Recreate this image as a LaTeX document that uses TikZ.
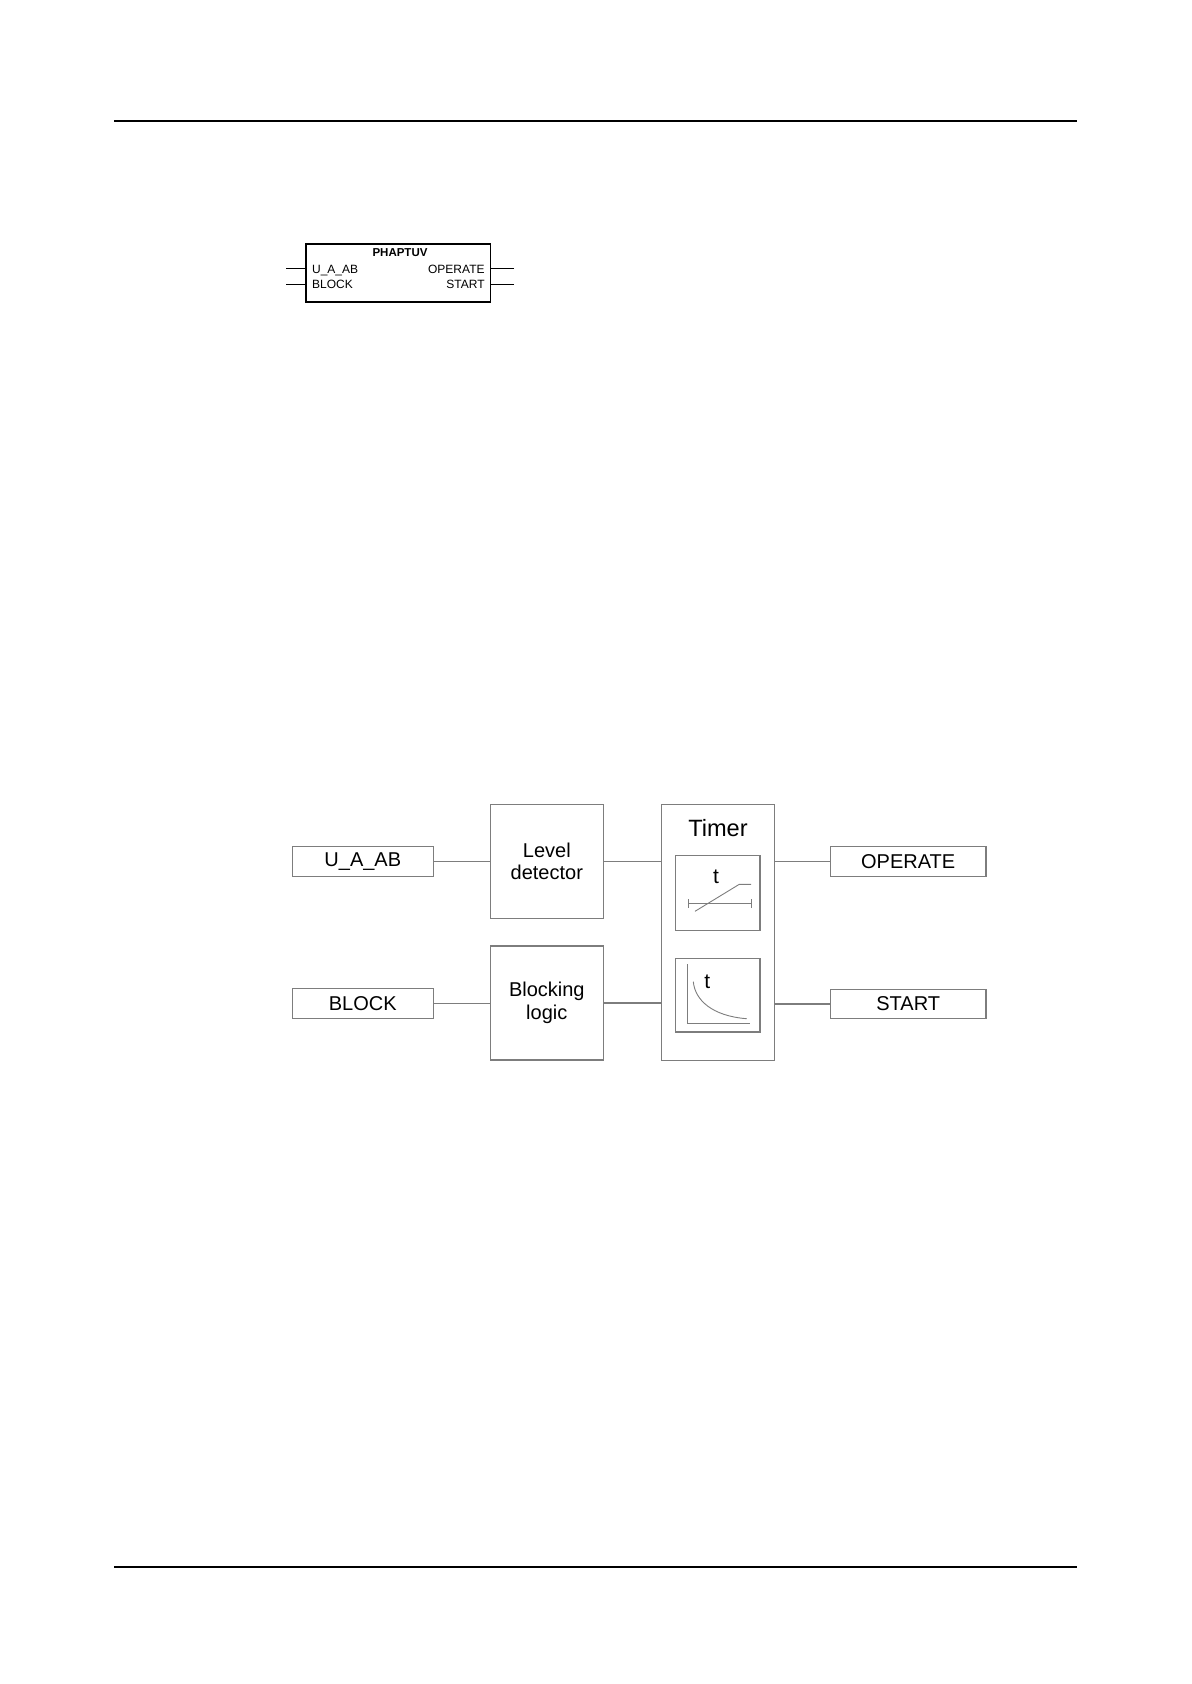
\documentclass[tikz,border=0pt]{standalone}
\usepackage{fontspec}
\setmainfont{Liberation Sans}
\definecolor{ln}{RGB}{125,125,125}
\begin{document}
\begin{tikzpicture}[x=0.5pt,y=-0.5pt,
  gbox/.style={draw=ln,line width=0.6pt,inner sep=0pt,align=center,font=\fontsize{10}{11.3}\selectfont},
  glink/.style={draw=ln,line width=0.6pt},
  plot/.style={draw=ln,line width=0.45pt},
  rule/.style={line width=1.1pt},
  symtxt/.style={inner sep=0pt,font=\fontsize{6}{7}\selectfont}]
\useasboundingbox (0,0) rectangle (1191,1684);
% page rules
\coordinate (r1a) at (114,121); \coordinate (r1b) at (1077,121);
\coordinate (r2a) at (114,1567); \coordinate (r2b) at (1077,1567);
\draw[rule] (r1a) -- (r1b);
\draw[rule] (r2a) -- (r2b);
% function block symbol
\node[draw,line width=0.7pt,minimum width=92.3pt,minimum height=29pt,inner sep=0pt] (sym) at (398.3,273) {};
\node[symtxt,font=\fontsize{5.75}{7}\selectfont\bfseries,anchor=base] (symt) at (400,256.7) {PHAPTUV};
\node[symtxt,anchor=base west] (s1) at (311.7,273.3) {U\_A\_AB};
\node[symtxt,anchor=base west] (s2) at (311.7,288.7) {BLOCK};
\node[symtxt,anchor=base east] (s3) at (485,273.3) {OPERATE};
\node[symtxt,anchor=base east] (s4) at (485,288.7) {START};
\coordinate (pi1) at (286,268.7); \coordinate (pi2) at (286,284.3);
\coordinate (po1) at (514,268.7); \coordinate (po2) at (514,284.3);
\draw[line width=0.7pt] (pi1) -- (pi1 -| sym.west);
\draw[line width=0.7pt] (pi2) -- (pi2 -| sym.west);
\draw[line width=0.7pt] (po1) -- (po1 -| sym.east);
\draw[line width=0.7pt] (po2) -- (po2 -| sym.east);
% main diagram
\node[gbox,minimum width=70.5pt,minimum height=15pt] (uab) at (362.8,861.3) {U\_A\_AB};
\node[gbox,minimum width=70.5pt,minimum height=15pt] (blk) at (362.8,1003.3) {BLOCK};
\node[gbox,minimum width=56.5pt,minimum height=57pt] (lvl) at (546.8,861.2) {Level\\detector};
\node[gbox,minimum width=56.5pt,minimum height=57pt] (blg) at (546.8,1003) {Blocking\\logic};
\node[gbox,minimum width=56.5pt,minimum height=128pt] (tmr) at (718.2,932.2) {};
\node[inner sep=0pt,anchor=base,font=\fontsize{11.8}{13}\selectfont] (tmrt) at (718,836) {Timer};
\node[gbox,minimum width=42.3pt,minimum height=37.5pt] (in1) at (717.6,892.8) {};
\node[gbox,minimum width=42.3pt,minimum height=36.8pt] (in2) at (717.6,995.2) {};
\node[gbox,minimum width=77.8pt,minimum height=15pt] (opr) at (908.2,861.3) {OPERATE};
\node[gbox,minimum width=77.8pt,minimum height=14.7pt] (sta) at (908.2,1004) {START};
% connectors
\draw[glink] (uab.east) -- (uab.east -| lvl.west);
\draw[glink] (blk.east) -- (blk.east -| blg.west);
\draw[glink] (lvl.east) -- (lvl.east -| tmr.west);
\draw[glink] (blg.east) -- (blg.east -| tmr.west);
\draw[glink] (opr.west -| tmr.east) -- (opr.west);
\draw[glink] (sta.west -| tmr.east) -- (sta.west);
% inner plot 1
\node[inner sep=0pt,anchor=base,font=\fontsize{10.5}{12}\selectfont] (t1) at (716,883.3) {t};
\draw[plot] (688.3,903.3) -- (751,903.3);
\draw[plot] (688.3,899) -- (688.3,907.7);
\draw[plot] (751,899) -- (751,907.7);
\draw[plot] (695,911.3) -- (739.3,884.3) -- (751,884.3);
% inner plot 2
\node[inner sep=0pt,anchor=base,font=\fontsize{10.5}{12}\selectfont] (t2) at (707.3,988.3) {t};
\draw[plot] (687.3,964) -- (687.3,1023.3) -- (750,1023.3);
\draw[plot] (693.3,981.7) .. controls (695,1000) and (712,1016) .. (746.7,1018.7);
\end{tikzpicture}
\end{document}
